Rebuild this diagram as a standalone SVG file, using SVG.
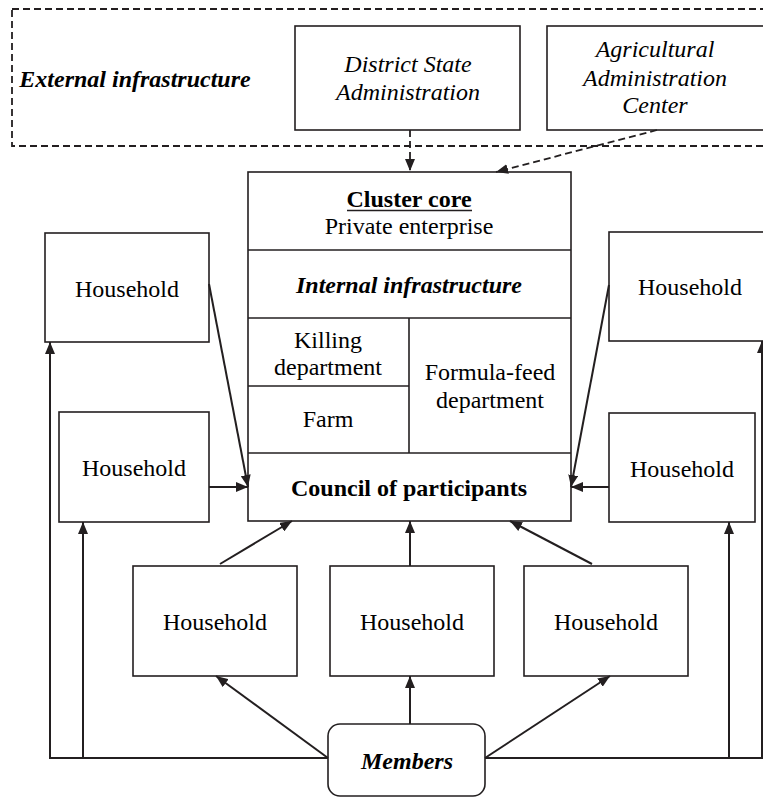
<svg xmlns="http://www.w3.org/2000/svg" width="763" height="797" viewBox="0 0 763 797" font-family="Times New Roman, Liberation Serif, serif" font-size="24">
<defs>
<marker id="ah" viewBox="0 0 12 10" refX="12" refY="5" markerWidth="12" markerHeight="10" markerUnits="userSpaceOnUse" orient="auto">
<path d="M0,0 L12,5 L0,10 Z" fill="#231f20"/>
</marker>
</defs>
<rect width="763" height="797" fill="#fff"/>
<g id="external">
<rect x="12" y="9" width="780" height="137" fill="none" stroke="#231f20" stroke-width="1.8" stroke-dasharray="7 4"/>
<text font-family="Times New Roman, Liberation Serif, serif" text-anchor="middle" font-weight="bold" font-style="italic" x="135" y="87">External infrastructure</text>
</g>
<g id="district">
<rect x="295" y="26" width="225" height="104" fill="#fff" stroke="#231f20" stroke-width="1.6"/>
<text font-family="Times New Roman, Liberation Serif, serif" text-anchor="middle" font-style="italic" x="408" y="72">District State</text>
<text font-family="Times New Roman, Liberation Serif, serif" text-anchor="middle" font-style="italic" x="408" y="100">Administration</text>
</g>
<g id="agri">
<rect x="547" y="26" width="240" height="104" fill="#fff" stroke="#231f20" stroke-width="1.6"/>
<text font-family="Times New Roman, Liberation Serif, serif" text-anchor="middle" font-style="italic" x="655" y="57">Agricultural</text>
<text font-family="Times New Roman, Liberation Serif, serif" text-anchor="middle" font-style="italic" x="655" y="86">Administration</text>
<text font-family="Times New Roman, Liberation Serif, serif" text-anchor="middle" font-style="italic" x="655" y="113">Center</text>
</g>
<g id="core">
<g fill="#fff" stroke="#231f20" stroke-width="1.6">
<rect x="248" y="172" width="323" height="349"/>
<line x1="248" y1="250" x2="571" y2="250"/>
<line x1="248" y1="318" x2="571" y2="318"/>
<line x1="248" y1="386" x2="409" y2="386"/>
<line x1="248" y1="453" x2="571" y2="453"/>
<line x1="409" y1="318" x2="409" y2="453"/>
<line x1="347" y1="210.5" x2="472" y2="210.5"/>
</g>
<text font-family="Times New Roman, Liberation Serif, serif" text-anchor="middle" font-weight="bold" x="409" y="207">Cluster core</text>
<text font-family="Times New Roman, Liberation Serif, serif" text-anchor="middle" x="409" y="234">Private enterprise</text>
<text font-family="Times New Roman, Liberation Serif, serif" text-anchor="middle" font-weight="bold" font-style="italic" x="409" y="293">Internal infrastructure</text>
<text font-family="Times New Roman, Liberation Serif, serif" text-anchor="middle" x="328" y="348">Killing</text>
<text font-family="Times New Roman, Liberation Serif, serif" text-anchor="middle" x="328" y="375">department</text>
<text font-family="Times New Roman, Liberation Serif, serif" text-anchor="middle" x="328" y="427">Farm</text>
<text font-family="Times New Roman, Liberation Serif, serif" text-anchor="middle" x="490" y="380">Formula-feed</text>
<text font-family="Times New Roman, Liberation Serif, serif" text-anchor="middle" x="490" y="408">department</text>
<text font-family="Times New Roman, Liberation Serif, serif" text-anchor="middle" font-weight="bold" x="409" y="496">Council of participants</text>
</g>
<g id="hh-left1">
<rect x="45" y="233" width="164" height="109" fill="#fff" stroke="#231f20" stroke-width="1.6"/>
<text font-family="Times New Roman, Liberation Serif, serif" text-anchor="middle" x="127" y="297">Household</text>
</g>
<g id="hh-left2">
<rect x="59" y="412" width="150" height="110" fill="#fff" stroke="#231f20" stroke-width="1.6"/>
<text font-family="Times New Roman, Liberation Serif, serif" text-anchor="middle" x="134" y="476">Household</text>
</g>
<g id="hh-right1">
<rect x="609" y="232" width="170" height="109" fill="#fff" stroke="#231f20" stroke-width="1.6"/>
<text font-family="Times New Roman, Liberation Serif, serif" text-anchor="middle" x="690" y="295">Household</text>
</g>
<g id="hh-right2">
<rect x="609" y="413" width="146" height="109" fill="#fff" stroke="#231f20" stroke-width="1.6"/>
<text font-family="Times New Roman, Liberation Serif, serif" text-anchor="middle" x="682" y="477">Household</text>
</g>
<g id="hh-bottom1">
<rect x="133" y="566" width="164" height="110" fill="#fff" stroke="#231f20" stroke-width="1.6"/>
<text font-family="Times New Roman, Liberation Serif, serif" text-anchor="middle" x="215" y="630">Household</text>
</g>
<g id="hh-bottom2">
<rect x="330" y="566" width="164" height="110" fill="#fff" stroke="#231f20" stroke-width="1.6"/>
<text font-family="Times New Roman, Liberation Serif, serif" text-anchor="middle" x="412" y="630">Household</text>
</g>
<g id="hh-bottom3">
<rect x="524" y="566" width="164" height="110" fill="#fff" stroke="#231f20" stroke-width="1.6"/>
<text font-family="Times New Roman, Liberation Serif, serif" text-anchor="middle" x="606" y="630">Household</text>
</g>
<g id="members">
<rect x="328" y="724" width="157" height="72" rx="12" fill="#fff" stroke="#231f20" stroke-width="1.6"/>
<text font-family="Times New Roman, Liberation Serif, serif" text-anchor="middle" font-weight="bold" font-style="italic" x="407" y="769">Members</text>
</g>
<g id="connectors" fill="none" stroke="#231f20" stroke-width="2">
<line stroke-width="1.8" stroke-dasharray="7 4" x1="410" y1="130" x2="410" y2="171" marker-end="url(#ah)"/>
<line stroke-width="1.8" stroke-dasharray="7 4" x1="657" y1="130" x2="496" y2="172" marker-end="url(#ah)"/>
<line x1="209" y1="284" x2="248" y2="487" marker-end="url(#ah)"/>
<line x1="209" y1="487" x2="248" y2="487" marker-end="url(#ah)"/>
<line x1="609" y1="285" x2="571" y2="487" marker-end="url(#ah)"/>
<line x1="609" y1="487" x2="571" y2="487" marker-end="url(#ah)"/>
<line x1="220" y1="564" x2="292" y2="521" marker-end="url(#ah)"/>
<line x1="410" y1="566" x2="410" y2="521" marker-end="url(#ah)"/>
<line x1="592" y1="564" x2="510" y2="521" marker-end="url(#ah)"/>
<line x1="328" y1="758" x2="216" y2="676" marker-end="url(#ah)"/>
<line x1="410" y1="724" x2="410" y2="676" marker-end="url(#ah)"/>
<line x1="485" y1="758" x2="610" y2="676" marker-end="url(#ah)"/>
<polyline points="328,758 50,758 50,342" marker-end="url(#ah)"/>
<line x1="83" y1="758" x2="83" y2="522" marker-end="url(#ah)"/>
<polyline points="485,758 762,758 762,341" marker-end="url(#ah)"/>
<line x1="729" y1="758" x2="729" y2="522" marker-end="url(#ah)"/>
</g>
</svg>
